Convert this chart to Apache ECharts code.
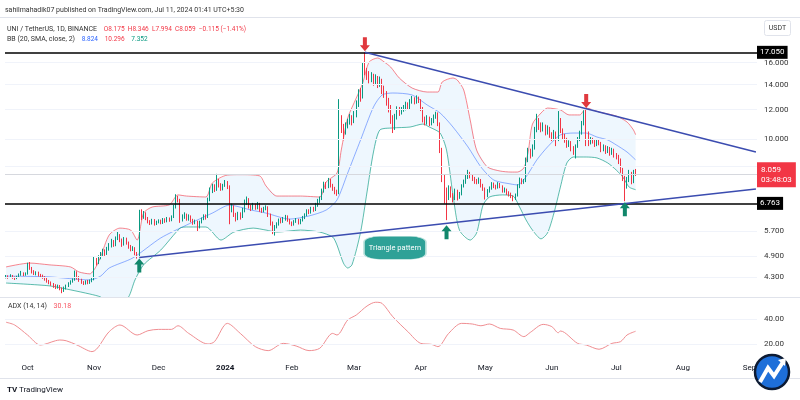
<!DOCTYPE html>
<html><head><meta charset="utf-8">
<script src="https://cdn.jsdelivr.net/npm/echarts@6/dist/echarts.min.js"></script>
<style>html,body{margin:0;padding:0;background:#fff}#c{width:800px;height:400px}</style>
</head><body><div id="c"></div>
<script>
// ---- data ----
const startDate = [2023, 8, 21]; // first category: 2023-09-21
const dayCount = 350;            // categories shown on the time axis
const firstOpen = 4.30;
const closes = [
4.32,4.30,4.34,4.29,4.27,4.31,4.36,4.40,4.37,4.39,
4.62,4.55,4.45,
4.40,4.42,4.36,4.33,4.30,4.25,4.20,4.16,
4.12,4.08,4.05,4.07,4.01,3.96,4.02,
4.08,4.14,4.19,4.24,
4.42,4.30,
4.22,4.17,4.14,4.19,4.16,4.20,4.25,
4.78,
4.70,4.86,4.95,5.06,4.97,5.12,
5.22,5.36,5.24,5.46,5.56,5.40,
5.26,5.44,5.31,5.19,5.10,5.14,4.98,4.90,
6.40,
6.22,6.35,6.18,
6.05,5.98,6.10,5.96,6.02,6.08,6.00,6.12,6.06,6.16,6.10,6.22,
6.60,7.00,6.90,6.15,
6.22,6.30,6.14,6.25,6.10,6.00,6.05,5.85,
6.02,6.15,6.26,6.20,
6.90,7.30,
7.50,7.35,7.75,
7.60,7.40,7.55,7.70,7.45,
6.50,
6.62,6.30,6.15,6.35,6.22,6.50,6.80,6.95,
6.62,6.55,6.70,6.58,6.74,6.50,6.45,6.56,6.60,
6.30,6.00,5.75,5.85,5.95,
6.10,6.05,6.15,6.25,6.10,6.00,5.95,6.05,6.12,6.00,6.10,
6.20,6.30,6.45,6.40,6.55,6.50,6.70,6.85,6.95,
7.30,7.60,7.50,7.80,7.55,7.40,7.25,
7.20,
11.30,
10.80,10.50,10.90,11.10,11.40,11.20,11.60,
12.40,13.30,13.00,
15.60,15.20,
14.90,14.50,14.80,14.20,14.60,14.00,14.40,13.60,13.30,
12.60,12.20,11.40,10.80,11.50,12.00,
11.80,12.00,12.10,12.40,12.20,12.60,
12.80,12.60,12.90,12.70,
12.10,11.30,11.10,
11.40,11.00,11.20,11.50,11.70,
11.00,9.40,7.90,7.20,7.00,
7.40,7.10,6.95,7.30,7.00,7.15,7.50,
7.70,7.90,8.10,8.00,7.85,7.75,
7.70,7.80,7.55,7.40,7.10,7.30,7.40,7.60,7.50,7.45,7.60,7.50,7.30,7.35,
7.20,7.15,7.05,6.95,7.10,
7.50,7.80,7.70,7.75,
8.80,9.30,9.10,9.50,10.60,11.20,10.90,10.70,
10.80,10.50,10.70,10.30,10.10,10.40,
10.00,11.30,10.60,
10.20,10.00,9.70,9.80,9.50,9.30,9.60,
10.00,10.40,11.00,11.80,10.40,
9.80,10.00,9.90,9.70,9.90,9.80,
9.40,9.60,9.30,9.50,9.20,9.40,9.10,
9.00,8.80,8.30,7.90,7.55,
7.80,8.15,7.70,8.175,8.059];
const highs = [
4.36,4.35,4.38,4.36,4.32,4.34,4.40,4.47,4.43,4.43,
4.70,4.72,4.58,
4.49,4.46,4.45,4.39,4.37,4.33,4.28,4.23,
4.19,4.15,4.12,4.11,4.10,4.04,4.06,
4.11,4.17,4.22,4.27,
4.48,4.46,
4.33,4.26,4.20,4.22,4.23,4.24,4.29,
4.88,
4.84,4.92,5.02,5.12,5.10,5.18,
5.30,5.44,5.40,5.52,5.68,5.60,
5.45,5.50,5.48,5.35,5.24,5.20,5.17,5.02,
6.50,
6.52,6.45,6.40,
6.22,6.10,6.15,6.14,6.08,6.13,6.12,6.18,6.17,6.22,6.20,6.28,
6.70,7.15,7.08,6.95,
6.32,6.40,6.35,6.32,6.28,6.15,6.12,6.08,
6.08,6.20,6.32,6.32,
7.00,7.45,
7.62,7.60,8.10,
7.85,7.65,7.62,7.80,7.75,
7.55,
6.75,6.68,6.38,6.42,6.40,6.58,6.92,7.05,
6.98,6.70,6.78,6.75,6.82,6.78,6.58,6.62,6.68,
6.64,6.35,6.05,5.92,6.02,
6.16,6.18,6.22,6.30,6.28,6.15,6.05,6.10,6.18,6.15,6.15,
6.26,6.36,6.52,6.52,6.62,6.62,6.78,6.95,7.05,
7.40,7.72,7.70,7.90,7.85,7.62,7.48,
7.35,
12.80,
11.60,11.00,11.10,11.35,11.70,11.60,11.90,
12.70,13.60,13.70,
16.00,17.05,
15.50,15.20,15.10,14.95,14.90,14.75,14.70,14.50,13.90,
13.45,12.90,12.35,11.60,11.70,12.25,
12.20,12.20,12.35,12.60,12.55,12.80,
13.05,12.95,13.10,13.00,
12.80,12.20,11.50,
11.60,11.50,11.40,11.65,11.85,
11.80,11.10,9.50,8.05,7.45,
7.55,7.50,7.20,7.40,7.35,7.25,7.60,
7.82,8.05,8.30,8.20,8.08,7.95,
7.85,7.92,7.85,7.62,7.45,7.38,7.50,7.70,7.68,7.58,7.70,7.66,7.55,7.45,
7.40,7.28,7.22,7.10,7.18,
7.60,7.92,7.88,7.85,
8.95,9.50,9.45,9.70,10.80,11.70,11.40,11.10,
11.10,10.95,10.90,10.80,10.45,10.60,
10.50,11.90,11.40,
10.70,10.35,10.10,9.95,9.90,9.60,9.70,
10.15,10.55,11.20,11.95,12.05,
10.50,10.15,10.10,10.00,10.00,10.00,
9.85,9.70,9.65,9.60,9.55,9.50,9.45,
9.20,9.10,8.90,8.40,8.00,
7.95,8.30,8.20,8.30,8.346];
const lows = [
4.27,4.26,4.28,4.26,4.23,4.25,4.29,4.34,4.33,4.34,
4.37,4.50,4.40,
4.36,4.35,4.32,4.29,4.26,4.21,4.16,4.12,
4.08,4.03,4.00,4.01,3.97,3.90,3.93,
3.99,4.05,4.11,4.16,
4.21,4.24,
4.18,4.13,4.10,4.11,4.12,4.13,4.17,
4.22,
4.62,4.66,4.80,4.90,4.90,4.93,
5.06,5.16,5.18,5.20,5.40,5.33,
5.18,5.22,5.25,5.12,5.04,5.05,4.92,4.82,
4.86,
6.10,6.15,6.10,
5.98,5.92,5.94,5.90,5.92,5.98,5.95,5.96,6.00,6.02,6.04,6.06,
6.18,6.55,6.80,6.00,
6.05,6.15,6.08,6.08,6.02,5.93,5.95,5.70,
5.80,5.98,6.10,6.12,
6.18,6.85,
7.20,7.25,7.30,
7.45,7.30,7.32,7.48,7.38,
5.95,
6.40,6.22,6.05,6.10,6.12,6.18,6.40,6.70,
6.55,6.45,6.50,6.50,6.52,6.42,6.38,6.40,6.48,
6.22,5.90,5.60,5.55,5.80,
5.90,5.98,6.00,6.08,6.04,5.94,5.88,5.90,6.00,5.94,5.95,
6.05,6.14,6.25,6.33,6.35,6.42,6.45,6.62,6.78,
6.90,7.22,7.38,7.42,7.45,7.30,7.15,
7.08,
7.15,
10.40,9.95,10.30,10.70,10.95,10.90,11.05,
11.45,12.20,12.60,
12.85,14.80,
14.40,14.10,14.20,13.90,14.00,13.70,13.80,13.20,12.90,
12.30,11.80,11.00,10.40,10.60,11.30,
11.55,11.65,11.85,11.95,12.00,12.05,
12.45,12.40,12.45,12.50,
11.90,11.10,10.90,
10.95,10.85,10.90,11.05,11.35,
10.85,9.20,7.70,6.75,6.10,
6.90,7.00,6.80,6.90,6.88,6.95,7.10,
7.45,7.62,7.85,7.88,7.75,7.62,
7.60,7.62,7.45,7.30,6.92,7.02,7.22,7.35,7.42,7.36,7.40,7.42,7.22,7.22,
7.12,7.05,6.98,6.85,6.90,
7.05,7.42,7.60,7.62,
7.70,8.70,8.90,9.00,9.40,10.45,10.60,10.45,
10.50,10.25,10.30,10.10,9.90,9.95,
9.60,9.90,10.40,
10.00,9.80,9.50,9.55,9.30,9.10,8.90,
9.50,9.90,10.30,10.90,9.60,
9.60,9.70,9.75,9.55,9.60,9.65,
9.25,9.30,9.15,9.20,9.05,9.10,8.95,
8.85,8.60,8.15,7.75,6.85,
7.40,7.70,7.60,7.65,7.994];

// Bollinger Bands (20, SMA, close, 2): [day index, value]
const bbUpper = [[0,4.58],[11,4.69],[20,4.64],[30,4.58],[34,4.44],[39,4.39],[42,4.6],[44,4.87],[48,5.57],[53,5.81],[58,5.74],[61,5.4],[64,6.37],[68,6.61],[76,6.7],[80,7.12],[84,7.07],[93,7.03],[96,7.66],[103,8.04],[109,8.06],[118,8.0],[121,7.52],[126,7.07],[137,7.07],[146,7.03],[149,7.71],[154,8.14],[156,9.37],[159,11.4],[163,12.89],[166,14.13],[169,16.07],[173,16.47],[176,16.07],[179,15.58],[183,14.57],[189,13.7],[196,13.37],[201,13.37],[203,14.22],[208,14.57],[210,14.39],[213,13.54],[216,11.27],[219,9.37],[224,8.45],[230,8.24],[235,8.19],[238,8.19],[241,8.4],[243,9.26],[245,10.99],[249,11.76],[252,12.12],[258,11.98],[262,11.62],[267,11.62],[270,12.12],[276,11.83],[284,11.54],[289,11.13],[292,10.6],[293,10.296]];
const bbBasis = [[0,4.33],[20,4.31],[39,4.23],[44,4.33],[48,4.55],[59,4.84],[72,5.47],[84,5.92],[96,6.37],[104,6.69],[114,6.49],[121,6.37],[132,6.14],[141,6.26],[149,6.49],[154,6.9],[159,8.14],[165,9.97],[171,12.2],[175,13.13],[180,13.29],[189,13.13],[196,12.35],[202,11.76],[208,10.79],[215,9.55],[221,8.45],[227,7.8],[235,7.61],[238,7.57],[242,7.95],[247,8.82],[252,9.55],[258,10.28],[264,10.4],[270,10.4],[275,10.15],[280,9.97],[284,9.67],[289,9.26],[293,8.824]];
const bbLower = [[0,4.15],[20,4.08],[30,3.98],[39,3.88],[44,3.81],[48,3.67],[53,3.67],[57,3.81],[60,4.23],[64,4.64],[72,5.08],[81,5.81],[84,5.85],[93,5.85],[100,5.4],[106,5.67],[115,5.81],[121,5.74],[126,5.67],[137,5.74],[146,5.67],[152,5.5],[154,5.24],[157,4.69],[159,4.55],[161,4.64],[165,5.67],[168,7.25],[171,9.26],[174,10.6],[180,10.73],[188,10.79],[194,10.99],[197,10.79],[202,10.4],[205,9.37],[208,7.12],[211,5.74],[216,5.4],[219,5.64],[222,6.69],[225,7.03],[231,7.12],[236,7.07],[239,6.61],[242,6.11],[245,5.74],[249,5.44],[252,5.64],[255,6.37],[258,7.47],[261,8.66],[264,8.98],[270,8.98],[275,8.93],[280,8.66],[284,8.29],[287,7.95],[290,7.47],[293,7.352]];

// ADX (14, 14): [day index, value]
const adx = [[0,37.4],[4,35.2],[10,27.2],[16,19.2],[23,22.6],[25,23.2],[28,22.6],[33,19.2],[40,13.9],[48,29.9],[53,35.2],[61,27.2],[66,30.6],[71,31.7],[77,31.7],[80,34.6],[85,28.5],[94,20.0],[97,21.9],[103,36.5],[109,28.5],[116,17.9],[122,14.7],[129,20.5],[135,18.4],[141,14.7],[146,16.6],[152,28.5],[154,27.2],[159,39.2],[163,43.2],[168,50.4],[172,53.4],[175,52.5],[180,41.8],[187,29.9],[193,20.5],[198,19.7],[201,17.9],[206,28.5],[212,36.5],[217,36.0],[221,34.6],[225,36.0],[230,32.5],[236,31.2],[241,25.9],[244,29.3],[250,35.7],[254,33.9],[257,29.0],[258,30.4],[266,20.5],[270,19.2],[276,15.8],[282,20.5],[286,21.9],[289,27.2],[293,30.18]];

const priceTicks = [4.3, 4.9, 5.7, 8.5, 10, 12, 14, 16];
const adxTicks = [20, 40];
const levels = [17.05, 6.763];
const lastPrice = 8.059;
const countdown = '03:48:03';
const upperTrend = [[167, 17.05], [349, 9.26]];
const lowerTrend = [[62, 4.85], [349, 7.38]];
const downArrows = [[167, 17.05], [270, 12.05]];
const upArrows = [[62, 4.85], [205, 5.95], [288, 6.85]];
const patternLabel = [[181, 5.15]];
const monthNames = ['2024','Feb','Mar','Apr','May','Jun','Jul','Aug','Sep','Oct','Nov','Dec'];

// ---- build ----
const dates = [];
(function(){ const t0 = Date.UTC(startDate[0], startDate[1], startDate[2]);
  for (let i = 0; i < dayCount; i++) dates.push(new Date(t0 + i * 86400000).toISOString().slice(0, 10)); })();
const candles = closes.map((c, i) => [i === 0 ? firstOpen : closes[i - 1], c, lows[i], highs[i]]);

const FONT = 'Roboto, sans-serif';
const UP = '#089981', DOWN = '#f23645';
const chart = echarts.init(document.getElementById('c'));
const isMonthStart = (idx, val) => val.slice(8) === '01';
const legendRich = {
  g: { fontSize: 7, fill: '#333333', fontFamily: FONT },
  r: { fontSize: 6.5, fill: DOWN, fontFamily: FONT },
  b: { fontSize: 6.5, fill: '#2962ff', fontFamily: FONT },
  t: { fontSize: 6.5, fill: UP, fontFamily: FONT },
  p: { fontSize: 7, fill: '#f7525f', fontFamily: FONT }
};

const option = {
  animation: false,
  backgroundColor: '#ffffff',
  textStyle: { fontFamily: FONT },
  grid: [
    { left: 5, right: 43, top: 18, bottom: 103, outerBoundsMode: 'none' },
    { left: 5, right: 43, top: 298, bottom: 42, outerBoundsMode: 'none' }
  ],
  xAxis: [
    { type: 'category', gridIndex: 0, data: dates, boundaryGap: true,
      axisLine: { show: false }, axisTick: { show: false }, axisLabel: { show: false }, splitLine: { show: false } },
    { type: 'category', gridIndex: 1, data: dates, boundaryGap: true,
      axisLine: { show: false }, axisTick: { show: false }, splitLine: { show: false },
      axisLabel: { interval: isMonthStart, margin: 6, fontFamily: FONT,
        formatter: (val) => { const m = +val.slice(5, 7); return m === 1 ? '{b|' + monthNames[0] + '}' : '{n|' + monthNames[m - 1] + '}'; },
        rich: { b: { fontWeight: 'bold', fontSize: 8, color: '#131722', fontFamily: FONT }, n: { fontSize: 8, color: '#131722', fontFamily: FONT } } } }
  ],
  yAxis: [
    { type: 'log', logBase: 10, gridIndex: 0, position: 'right', min: 3.81, max: 21.04,
      axisLine: { show: false }, axisTick: { show: false }, axisLabel: { show: false }, splitLine: { show: false } },
    { type: 'value', gridIndex: 1, position: 'right', min: 8.8, max: 56.8,
      axisLine: { show: false }, axisTick: { show: false }, axisLabel: { show: false }, splitLine: { show: false } }
  ],
  series: [
    { // price grid lines + labels
      type: 'line', xAxisIndex: 0, yAxisIndex: 0, data: [], z: 0, silent: true,
      markLine: { silent: true, symbol: ['none', 'none'], animation: false,
        lineStyle: { color: '#f0f3fa', width: 1, type: 'solid' },
        label: { position: 'end', distance: 7, color: '#333', fontSize: 8, fontFamily: FONT },
        data: priceTicks.map(v => ({ yAxis: v, label: { formatter: v.toFixed(3) } })) } },
    { // BB background
      type: 'custom', xAxisIndex: 0, yAxisIndex: 0, data: [[0, 5]], z: 1, silent: true, clip: true,
      renderItem: (params, api) => {
        const pts = bbUpper.map(p => api.coord(p)).concat(bbLower.slice().reverse().map(p => api.coord(p)));
        return { type: 'polygon', shape: { points: pts }, style: { fill: 'rgba(33,150,243,0.075)' } };
      } },
    { type: 'line', xAxisIndex: 0, yAxisIndex: 0, data: bbUpper, smooth: 0.25, symbol: 'none', z: 2, silent: true,
      lineStyle: { color: 'rgba(242,54,69,0.6)', width: 1 } },
    { type: 'line', xAxisIndex: 0, yAxisIndex: 0, data: bbBasis, smooth: 0.25, symbol: 'none', z: 2, silent: true,
      lineStyle: { color: 'rgba(41,98,255,0.5)', width: 1 } },
    { type: 'line', xAxisIndex: 0, yAxisIndex: 0, data: bbLower, smooth: 0.25, symbol: 'none', z: 2, silent: true,
      lineStyle: { color: 'rgba(8,153,129,0.65)', width: 1 } },
    { type: 'candlestick', xAxisIndex: 0, yAxisIndex: 0, data: candles, barWidth: 1, z: 4, silent: true,
      itemStyle: { color: UP, color0: DOWN, borderColor: UP, borderColor0: DOWN, borderWidth: 1 } },
    { // levels and price label
      type: 'line', xAxisIndex: 0, yAxisIndex: 0, data: [], z: 5, silent: true,
      markLine: { silent: true, symbol: ['none', 'none'], animation: false,
        data: levels.map(v => ({ yAxis: v, lineStyle: { color: '#000', width: 1.5, type: 'solid' },
          label: { position: 'end', distance: 0, formatter: v.toFixed(3), backgroundColor: '#000', color: '#fff',
            padding: [3, 3, 2, 3], fontSize: 8, fontFamily: FONT } }))
          .concat([{ yAxis: lastPrice, lineStyle: { color: '#d6d8de', width: 1, type: 'solid' },
            label: { position: 'end', distance: 0, formatter: lastPrice.toFixed(3) + '\n' + countdown, backgroundColor: DOWN,
              color: '#fff', padding: [3, 4, 2, 4], lineHeight: 10, fontSize: 8, fontFamily: FONT } }]) } },
    { type: 'line', xAxisIndex: 0, yAxisIndex: 0, data: upperTrend, symbol: 'none', z: 5, silent: true,
      lineStyle: { color: '#3b4cb0', width: 1.5 } },
    { type: 'line', xAxisIndex: 0, yAxisIndex: 0, data: lowerTrend, symbol: 'none', z: 5, silent: true,
      lineStyle: { color: '#3b4cb0', width: 1.5 } },
    { type: 'scatter', xAxisIndex: 0, yAxisIndex: 0, data: downArrows, z: 6, silent: true,
      symbol: 'path://M3,0L7,0L7,8L10,8L5,14L0,8L3,8Z', symbolSize: [10, 14], symbolOffset: [0, -8],
      itemStyle: { color: '#e0393e', opacity: 1 } },
    { type: 'scatter', xAxisIndex: 0, yAxisIndex: 0, data: upArrows, z: 6, silent: true,
      symbol: 'path://M5,0L10,6L7,6L7,14L3,14L3,6L0,6Z', symbolSize: [10, 14], symbolOffset: [0, 8],
      itemStyle: { color: '#11876b', opacity: 1 } },
    { type: 'scatter', xAxisIndex: 0, yAxisIndex: 0, data: patternLabel, z: 6, silent: true,
      symbol: 'roundRect', symbolSize: [62, 23],
      itemStyle: { color: '#2ea197', borderColor: '#bfe3de', borderWidth: 1, opacity: 1 },
      label: { show: true, position: 'inside', formatter: 'Triangle pattern', color: '#fff', fontSize: 7.5, fontFamily: FONT } },
    { type: 'line', xAxisIndex: 1, yAxisIndex: 1, data: adx, smooth: 0.3, symbol: 'none', z: 3, silent: true,
      lineStyle: { color: '#f08e92', width: 1 },
      markLine: { silent: true, symbol: ['none', 'none'], animation: false,
        lineStyle: { color: '#f0f3fa', width: 1, type: 'solid' },
        label: { position: 'end', distance: 7, color: '#333', fontSize: 8, fontFamily: FONT },
        data: adxTicks.map(v => ({ yAxis: v, label: { formatter: v.toFixed(2) } })) } }
  ],
  graphic: [
    { type: 'line', shape: { x1: 0, y1: 17.5, x2: 800, y2: 17.5 }, style: { stroke: '#e0e3eb', lineWidth: 1 }, z: 10 },
    { type: 'line', shape: { x1: 0, y1: 297.5, x2: 800, y2: 297.5 }, style: { stroke: '#e0e3eb', lineWidth: 1 }, z: 10 },
    { type: 'line', shape: { x1: 0, y1: 378.5, x2: 800, y2: 378.5 }, style: { stroke: '#e0e3eb', lineWidth: 1 }, z: 10 },
    { type: 'text', x: 5, y: 10, z: 10, style: { text: 'sahilmahadik07 published on TradingView.com, Jul 11, 2024 01:41 UTC+5:30', fill: '#333', font: '7px ' + FONT, textVerticalAlign: 'middle' } },
    { type: 'text', x: 7, y: 29, z: 10, style: { text: '{g|UNI / TetherUS, 1D, BINANCE}  {r|O8.175  H8.346  L7.994  C8.059  \u22120.115 (\u22121.41%)}', rich: legendRich, textVerticalAlign: 'middle' } },
    { type: 'text', x: 7, y: 39, z: 10, style: { text: '{g|BB (20, SMA, close, 2)}  {b|8.824}  {r|10.296}  {t|7.352}', rich: legendRich, textVerticalAlign: 'middle' } },
    { type: 'rect', shape: { x: 764.5, y: 20.5, width: 26, height: 15, r: 2 }, style: { fill: '#fff', stroke: '#e0e3eb' }, z: 10 },
    { type: 'text', x: 777.5, y: 28, z: 11, style: { text: 'USDT', fill: '#333', font: '7px ' + FONT, textAlign: 'center', textVerticalAlign: 'middle' } },
    { type: 'text', x: 8, y: 306, z: 10, style: { text: '{g|ADX (14, 14)}  {p|30.18}', rich: legendRich, textVerticalAlign: 'middle' } },
    { type: 'text', x: 7, y: 390, z: 10, style: { text: 'TV', fill: '#131722', font: 'bold 8px ' + FONT, textVerticalAlign: 'middle' } },
    { type: 'text', x: 19, y: 390, z: 10, style: { text: 'TradingView', fill: '#131722', font: '8px ' + FONT, textVerticalAlign: 'middle' } },
    { type: 'circle', shape: { cx: 772, cy: 372, r: 17 }, style: { fill: '#1e6fd9', stroke: '#0d1b33', lineWidth: 2.5 }, z: 12 },
    { type: 'polyline', shape: { points: [[760, 382], [768, 368], [774, 376], [783, 362]] }, style: { stroke: '#fff', lineWidth: 4, fill: null }, z: 13 },
    { type: 'polygon', shape: { points: [[778, 360], [786, 358], [785, 366]] }, style: { fill: '#fff' }, z: 13 }
  ]
};
chart.setOption(option);
</script>
</body></html>
